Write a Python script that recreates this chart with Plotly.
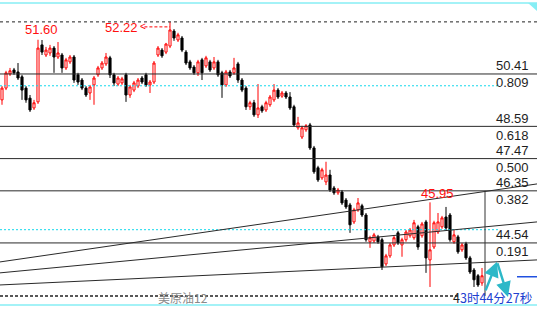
import plotly.graph_objects as go

# ---- data (prices) ----
opens = [49.51,49.92,50.41,50.55,50.48,50.31,49.92,49.57,49.23,49.44,
         51.42,51.07,51.14,51.31,51.00,51.07,50.62,50.83,51.00,50.38,
         50.20,49.92,49.75,50.03,50.38,50.62,50.76,50.97,50.38,50.06,
         50.10,50.38,49.68,49.85,49.99,50.27,50.38,50.03,50.13,51.07,
         51.24,51.17,51.38,51.90,51.59,51.66,51.17,50.83,50.65,50.45,
         50.90,50.69,50.83,50.62,50.83,50.45,50.03,50.48,50.45,50.76,
         50.20,49.92,49.27,49.41,48.99,49.27,49.16,49.34,49.51,49.85,
         49.64,49.75,49.61,49.27,48.54,48.22,48.47,48.64,47.84,47.15,
         46.80,46.66,46.90,46.45,46.28,46.31,46.03,45.86,45.27,45.69,
         45.83,45.51,44.58,44.61,44.75,44.65,43.81,44.09,44.47,44.89,
         44.47,44.65,44.79,44.72,45.10,44.79,45.27,43.95,44.40,44.92,
         45.10,45.44,45.51,44.58,44.75,44.30,44.51,44.02,43.60,43.40,
         43.15]
highs = [49.99,50.52,50.62,50.62,50.79,50.38,49.99,49.68,49.51,51.60,
         51.59,51.35,51.42,51.38,51.52,51.14,50.97,51.07,51.07,50.45,
         50.27,49.99,50.03,50.34,50.69,50.86,51.14,51.04,50.45,50.34,
         50.31,50.45,50.03,50.17,50.27,50.34,50.45,50.20,50.86,51.38,
         51.31,51.49,52.22,51.97,51.84,51.73,51.24,50.90,50.72,50.90,
         50.97,51.04,50.90,51.00,50.90,50.52,50.55,50.55,50.97,50.83,
         50.27,49.99,49.48,49.51,50.06,49.34,49.48,49.68,50.06,49.92,
         49.82,49.82,49.78,49.34,48.92,48.61,48.67,48.71,47.91,47.22,
         47.15,47.36,47.08,46.52,46.45,46.38,46.10,45.93,45.76,46.10,
         45.90,45.58,44.79,44.89,44.82,44.72,44.16,44.54,44.79,44.96,
         44.72,44.99,45.06,45.34,45.17,45.27,45.34,45.95,45.31,45.58,
         45.48,45.79,45.58,44.99,44.82,44.54,44.58,44.09,43.67,43.46,
         43.67]
lows = [49.34,49.85,50.34,50.38,50.20,49.51,49.41,49.09,49.16,49.37,
        51.07,51.00,51.04,50.45,50.93,50.45,50.55,50.76,50.10,50.03,
        49.85,49.61,49.51,49.34,50.31,50.55,50.69,50.27,49.99,49.99,
        50.03,49.44,49.58,49.78,49.92,50.06,49.96,49.75,50.06,51.00,
        50.97,51.10,51.31,51.56,51.52,51.17,50.72,50.55,50.38,50.34,
        50.20,50.62,50.48,50.55,50.31,49.58,49.96,50.27,50.38,50.10,
        49.78,49.16,49.16,48.92,48.88,49.06,49.09,49.27,49.44,49.54,
        49.58,49.54,49.16,48.57,48.47,48.15,48.40,47.77,46.94,46.66,
        46.73,46.55,46.31,46.21,46.21,45.86,45.72,44.89,45.20,45.62,
        45.44,44.58,44.37,44.54,44.51,43.60,43.74,44.02,44.40,44.47,
        44.06,44.58,44.72,44.65,44.30,44.72,43.50,43.01,44.33,44.85,
        45.03,44.99,44.58,44.51,44.16,44.23,43.95,43.46,43.01,43.01,
        43.05]
closes = [49.92,50.45,50.52,50.45,50.27,49.85,49.51,49.16,49.41,51.31,
          51.17,51.24,51.31,51.00,51.14,50.62,50.90,51.00,50.20,50.13,
          49.92,49.68,49.96,50.27,50.62,50.79,51.00,50.38,50.10,50.27,
          50.24,49.68,49.96,50.10,50.20,50.13,50.03,50.13,50.79,51.31,
          51.04,51.45,51.94,51.66,51.77,51.24,50.79,50.62,50.45,50.83,
          50.45,50.97,50.55,50.83,50.38,50.03,50.48,50.34,50.62,50.20,
          49.85,49.27,49.41,48.99,49.23,49.13,49.41,49.61,49.85,49.61,
          49.75,49.61,49.23,48.64,48.71,48.54,48.61,47.84,47.01,46.73,
          47.08,46.90,46.38,46.28,46.38,45.93,45.79,45.17,45.69,45.93,
          45.51,44.65,44.72,44.82,44.58,43.71,44.09,44.47,44.72,44.54,
          44.65,44.92,44.99,45.24,44.40,45.20,44.02,44.30,45.24,45.27,
          45.41,45.06,44.65,44.82,44.23,44.47,44.02,43.53,43.26,43.08,
          43.40]
bars = list(range(len(closes)))

fib_prices = [50.41, 48.59, 47.47, 46.35, 44.54]
fib_ratios = ["0.809", "0.618", "0.500", "0.382", "0.191"]
swing_high = 52.22
bottom_level = 42.70
round_levels = [50.00, 45.00]
trend_lines = [(43.88, 46.59), (43.50, 45.27), (43.08, 43.95)]
hi_labels = [(9.75, 51.60, "51.60", 10), (29.75, 52.22, "52.22", -6), (108.75, 45.95, "45.95", 9)]
symbol = "美原油12"
countdown_prefix = "4"
countdown = "3时44分27秒"

# ---- layout constants ----
W, H = 537, 310
XMIN, XMAX = -0.5, 133.75
YMIN, YMAX = 42.21, 52.98
upp = (YMAX - YMIN) / H          # price units per pixel
xpp = (XMAX - XMIN) / W          # bar units per pixel

fig = go.Figure()
fig.add_trace(go.Candlestick(
    x=bars, open=opens, high=highs, low=lows, close=closes,
    increasing=dict(line=dict(color="#ff0000", width=1), fillcolor="#ffffff"),
    decreasing=dict(line=dict(color="#000000", width=1), fillcolor="#000000"),
    whiskerwidth=0, hoverinfo="skip", showlegend=False,
))

shapes = []
# border-ish cyan lines
for yp in (3, 305):
    shapes.append(dict(type="line", xref="paper", yref="paper", x0=0, x1=1,
                       y0=1 - yp / H, y1=1 - yp / H, line=dict(color="#86eef5", width=1.5)))
shapes.append(dict(type="path", xref="paper", yref="paper",
                   path=f"M {528/W} {1-3/H} L 1 {1-3/H} L 1 {1-11/H} Z",
                   fillcolor="#86eef5", line=dict(width=0)))
# swing high dashed
shapes.append(dict(type="line", xref="paper", yref="y", x0=0, x1=1, y0=swing_high, y1=swing_high,
                   line=dict(color="#222222", width=1, dash="3px,3px")))
# bottom dashed
shapes.append(dict(type="line", xref="x", yref="y", x0=XMIN, x1=XMIN + 458 * xpp,
                   y0=bottom_level, y1=bottom_level,
                   line=dict(color="#222222", width=1.5, dash="3px,2px")))
# fib levels
for p in fib_prices:
    shapes.append(dict(type="line", xref="paper", yref="y", x0=0, x1=1, y0=p, y1=p,
                       line=dict(color="#2a2a2a", width=1)))
# round number dotted levels
for p in round_levels:
    shapes.append(dict(type="line", xref="x", yref="y", x0=XMIN, x1=XMIN + 498 * xpp, y0=p, y1=p,
                       line=dict(color="#12d8ec", width=1, dash="2px,2px")))
# trend lines
for a, b in trend_lines:
    shapes.append(dict(type="line", xref="x", yref="y", x0=XMIN, x1=XMAX, y0=a, y1=b,
                       line=dict(color="#2a2a2a", width=1)))
# vertical marker line at last bar
vx = bars[-1] + 0.75
shapes.append(dict(type="line", xref="x", yref="y", x0=vx, x1=vx, y0=bottom_level, y1=fib_prices[3],
                   line=dict(color="#333333", width=1)))
# red dashed pointer to the high
hi_idx = highs.index(max(highs))
shapes.append(dict(type="line", xref="x", yref="y", x0=35.6, x1=hi_idx,
                   y0=swing_high - 5 * upp, y1=swing_high - 5 * upp,
                   line=dict(color="#ff0000", width=1, dash="3px,2px")))
# short blue line on the right
shapes.append(dict(type="line", xref="x", yref="y", x0=XMAX - 20 * xpp, x1=XMAX,
                   y0=closes[-1] - 1 * upp, y1=closes[-1] - 1 * upp,
                   line=dict(color="#2050e0", width=1.5)))

ann = []
font_lbl = dict(family="Liberation Sans, Arial, sans-serif", size=13, color="#1e1e1e")
for p, r in zip(fib_prices, fib_ratios):
    ann.append(dict(x=531 / W, xref="paper", y=p, yref="y", text=f"{p:.2f}", showarrow=False,
                    xanchor="right", yanchor="middle", yshift=8, font=font_lbl))
    ann.append(dict(x=531 / W, xref="paper", y=p, yref="y", text=r, showarrow=False,
                    xanchor="right", yanchor="middle", yshift=-9, font=font_lbl))
for xi, yv, t, ys in hi_labels:
    ann.append(dict(x=xi, y=yv, text=t, showarrow=False, xanchor="center", yanchor="middle",
                    yshift=ys, font=dict(family="Liberation Sans, Arial, sans-serif", size=13,
                                         color="#ff1010")))
ann.append(dict(x=35.2, y=swing_high - 5 * upp, text="<", showarrow=False, xanchor="center",
                yanchor="middle", font=dict(family="Liberation Sans", size=10, color="#ff0000")))
# symbol and countdown
ann.append(dict(x=183 / W, xref="paper", y=1 - 297 / H, yref="paper", text=symbol, showarrow=False,
                xanchor="center", yanchor="middle",
                font=dict(family="Noto Sans CJK SC", size=12, color="#8a8a8a")))
ann.append(dict(x=534 / W, xref="paper", y=1 - 297 / H, yref="paper",
                text=f"<span style='color:#222222'>{countdown_prefix}</span>{countdown}",
                showarrow=False, xanchor="right", yanchor="middle",
                font=dict(family="Noto Sans CJK SC, Liberation Sans", size=12.5, color="#2040d0")))
# cyan prediction arrows
tip_x, tip_y = XMIN + 497 * xpp, closes[-1] + 14 * upp
ann.append(dict(x=tip_x, y=tip_y, ax=vx, ay=bottom_level + 4 * upp, xref="x", yref="y",
                axref="x", ayref="y", showarrow=True, arrowhead=2, arrowsize=1.2,
                arrowwidth=2.5, arrowcolor="#2cb8c8", text=""))
ann.append(dict(x=XMIN + 508 * xpp, y=bottom_level - 1 * upp, ax=tip_x, ay=tip_y, xref="x", yref="y",
                axref="x", ayref="y", showarrow=True, arrowhead=2, arrowsize=1.2,
                arrowwidth=2.5, arrowcolor="#2cb8c8", text=""))

fig.update_layout(
    width=W, height=H, autosize=False,
    margin=dict(l=0, r=0, t=0, b=0, pad=0),
    paper_bgcolor="#ffffff", plot_bgcolor="#ffffff",
    showlegend=False, boxgap=0.25,
    xaxis=dict(range=[XMIN, XMAX], visible=False, rangeslider=dict(visible=False), fixedrange=True),
    yaxis=dict(range=[YMIN, YMAX], visible=False, fixedrange=True),
    shapes=shapes, annotations=ann,
)
fig.write_html("out.html")
